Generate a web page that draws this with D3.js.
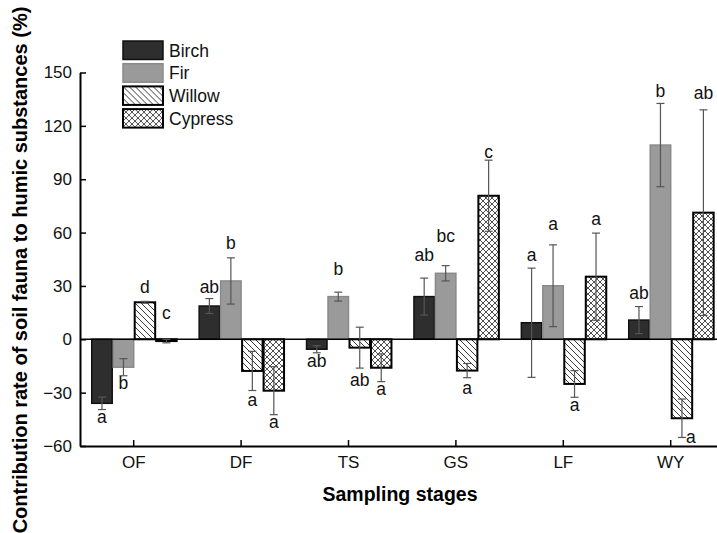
<!DOCTYPE html>
<html>
<head>
    <meta charset="utf-8">
    <title>Soil fauna contribution</title>
    <script src="https://cdn.jsdelivr.net/npm/d3@7"></script>
    <style>
        body { margin: 0; background: #fff; }
        text { font-family: "Liberation Sans", Arial, sans-serif; }
    </style>
</head>
<body>
<svg id="chart" width="717" height="533"></svg>

<script type="text/javascript">
    const stages = ["OF", "DF", "TS", "GS", "LF", "WY"];
    const species = ["Birch", "Fir", "Willow", "Cypress"];

    // mean contribution rate (%)
    const birch = [-36, 18.7, -5.6, 24, 9.3, 10.8];
    const fir = [-15.7, 32.8, 24, 37.1, 30.1, 109.2];
    const willow = [20.8, -17.8, -4.7, -17.6, -25.1, -44.4];
    const cypress = [-1, -28.9, -16, 80.7, 35.2, 71.2];

    // error bars
    const birchErr = [3.5, 4.2, 2, 10.4, 30.7, 7.6];
    const firErr = [4.8, 13, 2.5, 4.3, 23, 23.4];
    const willowErr = [0.5, 11, 11.5, 4, 7.5, 10.8];
    const cypressErr = [1, 13.5, 7.8, 20, 24.5, 57.8];

    // significance letters
    const birchLetters = ["a", "ab", "ab", "ab", "a", "ab"];
    const firLetters = ["b", "b", "b", "bc", "a", "b"];
    const willowLetters = ["d", "a", "ab", "a", "a", "a"];
    const cypressLetters = ["c", "a", "a", "c", "a", "ab"];

    // where each letter sits (data units)
    const birchLabelAt = [-43.5, 29.4, -12, 47.4, 47.4, 25.9];
    const firLabelAt = [-24.7, 54.3, 39.5, 58.1, 64.8, 139.7];
    const willowLabelAt = [29.6, -34.1, -22.9, -27.4, -36.9, -54.6];
    const cypressLabelAt = [14.6, -46.3, -28.1, 105.4, 67.6, 138.8];

    const yTicks = [-60, -30, 0, 30, 60, 90, 120, 150];

    const series = [
        {name: "Birch", vals: birch, err: birchErr, letters: birchLetters, at: birchLabelAt},
        {name: "Fir", vals: fir, err: firErr, letters: firLetters, at: firLabelAt},
        {name: "Willow", vals: willow, err: willowErr, letters: willowLetters, at: willowLabelAt},
        {name: "Cypress", vals: cypress, err: cypressErr, letters: cypressLetters, at: cypressLabelAt}
    ];

    const svg = d3.select("#chart");
    svg.append("rect").attr("width", 717).attr("height", 533).attr("fill", "#fff");

    /// patterns
    const defs = svg.append("defs");
    const diag = defs.append("pattern")
        .attr("id", "hatch")
        .attr("patternUnits", "userSpaceOnUse")
        .attr("width", 6).attr("height", 6);
    diag.append("rect").attr("width", 6).attr("height", 6).attr("fill", "#fff");
    diag.append("path")
        .attr("d", "M0,0L6,6M-1,5L1,7M5,-1L7,1")
        .attr("stroke", "#222").attr("stroke-width", 0.9);

    const cross = defs.append("pattern")
        .attr("id", "cross")
        .attr("patternUnits", "userSpaceOnUse")
        .attr("width", 6).attr("height", 6);
    cross.append("rect").attr("width", 6).attr("height", 6).attr("fill", "#fff");
    cross.append("path")
        .attr("d", "M0,0L6,6M-1,5L1,7M5,-1L7,1M0,6L6,0M-1,1L1,-1M5,7L7,5")
        .attr("stroke", "#222").attr("stroke-width", 0.8);

    const fills = {Birch: "#2e2e2e", Fir: "#9a9a9a", Willow: "url(#hatch)", Cypress: "url(#cross)"};
    const strokes = {Birch: "#111", Fir: "#8a8a8a", Willow: "#000", Cypress: "#000"};

    /// scales
    const left = 80, step = 107.4;
    const x0 = d3.scaleBand()
        .domain(stages)
        .range([left, left + step * stages.length])
        .paddingInner(0.2)
        .paddingOuter(0.1);
    const x1 = d3.scaleBand()
        .domain(species)
        .range([0, x0.bandwidth()]);
    const y = d3.scaleLinear()
        .domain([-60, 150])
        .range([446, 72.5]);

    /// bars
    const groups = svg.append("g").selectAll("g")
        .data(series)
        .join("g");

    groups.selectAll("rect")
        .data(s => s.vals.map((v, i) => ({name: s.name, stage: stages[i], v: v})))
        .join("rect")
        .attr("x", d => x0(d.stage) + x1(d.name) + 1)
        .attr("y", d => y(Math.max(0, d.v)))
        .attr("width", x1.bandwidth() - 1)
        .attr("height", d => Math.abs(y(d.v) - y(0)))
        .attr("fill", d => fills[d.name])
        .attr("stroke", d => strokes[d.name])
        .attr("stroke-width", d => (d.name === "Willow" || d.name === "Cypress") ? 2 : 1.5);

    /// zero line
    svg.append("line")
        .attr("x1", left).attr("x2", 717)
        .attr("y1", y(0)).attr("y2", y(0))
        .attr("stroke", "#000").attr("stroke-width", 1.5);

    /// error bars
    const errs = svg.append("g").selectAll("g")
        .data(series)
        .join("g")
        .selectAll("g")
        .data(s => s.vals.map((v, i) => ({name: s.name, stage: stages[i], v: v, e: s.err[i]})))
        .join("g")
        .attr("stroke", "#555")
        .attr("stroke-width", 1.2);
    const cx = d => x0(d.stage) + x1(d.name) + x1.bandwidth() / 2 + 0.5;
    errs.append("line")
        .attr("x1", cx).attr("x2", cx)
        .attr("y1", d => y(d.v + d.e)).attr("y2", d => y(d.v - d.e));
    errs.append("line")
        .attr("x1", d => cx(d) - 4).attr("x2", d => cx(d) + 4)
        .attr("y1", d => y(d.v + d.e)).attr("y2", d => y(d.v + d.e));
    errs.append("line")
        .attr("x1", d => cx(d) - 4).attr("x2", d => cx(d) + 4)
        .attr("y1", d => y(d.v - d.e)).attr("y2", d => y(d.v - d.e));

    /// letters
    svg.append("g").selectAll("g")
        .data(series)
        .join("g")
        .selectAll("text")
        .data(s => s.letters.map((t, i) => ({name: s.name, stage: stages[i], t: t, at: s.at[i]})))
        .join("text")
        .attr("x", d => y(d.at) > 428 ? cx(d) + 4 : cx(d))
        .attr("y", d => y(d.at))
        .attr("dy", "0.35em")
        .attr("text-anchor", d => y(d.at) > 428 ? "start" : "middle")
        .attr("font-size", 17.5)
        .attr("fill", "#111")
        .text(d => d.t);

    /// axes
    const yAxis = svg.append("g")
        .attr("transform", `translate(${left},0)`)
        .call(d3.axisLeft(y).tickValues(yTicks).tickSizeInner(-6).tickSizeOuter(0).tickPadding(8));
    const xAxis = svg.append("g")
        .attr("transform", `translate(0,${y(-60)})`)
        .call(d3.axisBottom(x0).tickSizeInner(-6).tickSizeOuter(0).tickPadding(10));

    [yAxis, xAxis].forEach(ax => {
        ax.select(".domain").attr("stroke", "#000").attr("stroke-width", 2);
        ax.selectAll(".tick line").attr("stroke", "#000").attr("stroke-width", 1.5);
        ax.selectAll(".tick text")
            .attr("font-family", "'Liberation Sans', Arial, sans-serif")
            .attr("font-size", 17)
            .attr("fill", "#111");
    });

    /// titles
    svg.append("text")
        .attr("x", 400).attr("y", 501)
        .attr("text-anchor", "middle")
        .attr("font-size", 19.5).attr("font-weight", "bold")
        .text("Sampling stages");

    svg.append("text")
        .attr("transform", "translate(27,270) rotate(-90)")
        .attr("text-anchor", "middle")
        .attr("font-size", 20).attr("font-weight", "bold")
        .text("Contribution rate of soil fauna to humic substances (%)");

    /// legend
    const legend = svg.append("g").attr("transform", "translate(123,41)");
    const items = legend.selectAll("g")
        .data(species)
        .join("g")
        .attr("transform", (d, i) => `translate(0,${i * 22.7})`);
    items.append("rect")
        .attr("width", 40).attr("height", 18.5)
        .attr("fill", d => fills[d])
        .attr("stroke", d => strokes[d])
        .attr("stroke-width", d => (d === "Willow" || d === "Cypress") ? 2 : 1.5);
    items.append("text")
        .attr("x", 46).attr("y", 9.5)
        .attr("dy", "0.35em")
        .attr("font-size", 17.5)
        .attr("fill", "#111")
        .text(d => d);
</script>
</body>
</html>
